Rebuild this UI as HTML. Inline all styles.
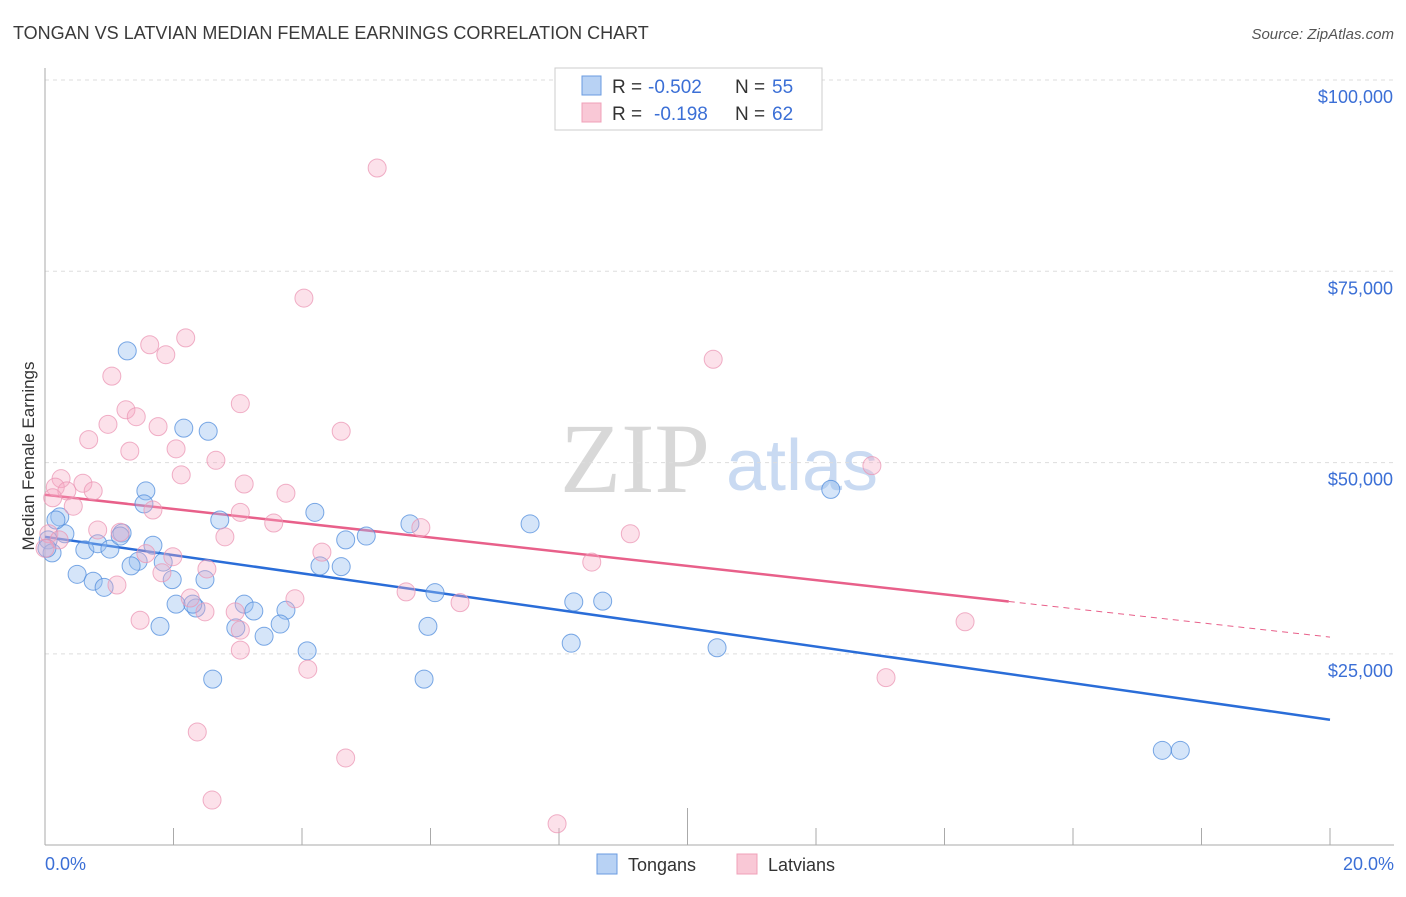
<!DOCTYPE html>
<html><head><meta charset="utf-8">
<style>
body{margin:0;background:#fff;font-family:"Liberation Sans",sans-serif;}
svg text{font-family:"Liberation Sans",sans-serif;}
</style></head>
<body>
<svg id="chart" width="1406" height="892" xmlns="http://www.w3.org/2000/svg">
<text x="13" y="39" font-size="18" fill="#3a3a3a">TONGAN VS LATVIAN MEDIAN FEMALE EARNINGS CORRELATION CHART</text>
<text x="1394" y="39" font-size="15" fill="#555" text-anchor="end" font-style="italic">Source: ZipAtlas.com</text>
<g>
<text x="635" y="492" font-size="100" fill="#d8d8d8" style="font-family:'Liberation Serif',serif" text-anchor="middle">ZIP</text>
<text x="802" y="490" font-size="72" fill="#c9daf2" text-anchor="middle">atlas</text>
</g>
<g id="grid"></g>
<g id="axes"></g>
<g id="trends"></g>
<g id="points"></g>
<text transform="translate(34,456) rotate(-90)" font-size="17" fill="#333" text-anchor="middle">Median Female Earnings</text>
<text x="45" y="870" font-size="18" fill="#3b6fd6">0.0%</text>
<text x="1394" y="870" font-size="18" fill="#3b6fd6" text-anchor="end">20.0%</text>
<g>
<rect x="555" y="68" width="267" height="62" fill="#fff" stroke="#ccc"/>
<rect x="582" y="76" width="19" height="19" fill="#b8d2f4" stroke="#6a9be0"/>
<rect x="582" y="103" width="19" height="19" fill="#f9c8d6" stroke="#f0a0b8"/>
<text x="612" y="93" font-size="19" fill="#333">R =</text>
<text x="648" y="93" font-size="19" fill="#3b6fd6">-0.502</text>
<text x="735" y="93" font-size="19" fill="#333">N =</text>
<text x="772" y="93" font-size="19" fill="#3b6fd6">55</text>
<text x="612" y="120" font-size="19" fill="#333">R =</text>
<text x="654" y="120" font-size="19" fill="#3b6fd6">-0.198</text>
<text x="735" y="120" font-size="19" fill="#333">N =</text>
<text x="772" y="120" font-size="19" fill="#3b6fd6">62</text>
</g>
<g>
<rect x="597" y="854" width="20" height="20" fill="#b8d2f4" stroke="#6a9be0"/>
<text x="628" y="871" font-size="18" fill="#333">Tongans</text>
<rect x="737" y="854" width="20" height="20" fill="#f9c8d6" stroke="#f0a0b8"/>
<text x="768" y="871" font-size="18" fill="#333">Latvians</text>
</g>
</svg>
<script>
const yTicks=[25000,50000,75000,100000];
const yTickLabels=["$25,000","$50,000","$75,000","$100,000"];
const tonganX=[1.28,2.16,2.54,1.57,1.54,0.23,2.72,4.20,0.31,1.20,0.05,0.11,0.62,0.82,1.01,1.68,4.68,5.00,5.68,7.55,1.45,1.34,1.84,4.28,4.61,0.50,0.75,0.92,1.98,2.49,2.04,2.35,3.10,3.25,3.75,2.97,3.41,3.66,1.79,4.08,5.96,6.07,8.23,8.68,8.19,10.46,2.61,5.90,12.23,17.39,17.67,0.03,0.17,1.17,2.30];
const tonganY=[64.6,54.5,54.1,46.3,44.6,42.9,42.5,43.5,40.7,40.8,39.9,38.2,38.6,39.4,38.7,39.2,39.9,40.4,42.0,42.0,37.1,36.5,37.0,36.5,36.4,35.4,34.5,33.7,34.7,34.7,31.5,31.0,31.5,30.6,30.7,28.4,27.3,28.9,28.6,25.4,28.6,33.0,31.8,31.9,26.4,25.8,21.7,21.7,46.5,12.4,12.4,38.8,42.5,40.4,31.5];
const latvianX=[5.17,4.03,2.19,1.63,1.88,10.40,1.04,3.04,1.26,1.42,0.98,1.76,4.61,0.68,2.04,1.32,2.66,12.87,2.12,0.25,0.16,0.59,0.34,0.75,0.12,0.44,3.10,3.75,1.68,3.04,2.80,3.56,5.85,0.82,1.17,9.11,0.06,0.22,0.00,1.57,1.99,4.31,8.51,1.82,2.52,1.12,5.62,2.26,3.89,6.46,1.48,2.96,2.49,14.32,3.04,4.09,13.09,2.37,4.68,2.60,7.97,3.04];
const latvianY=[88.5,71.5,66.3,65.4,64.1,63.5,61.3,57.7,56.9,56.0,55.0,54.7,54.1,53.0,51.8,51.5,50.3,49.6,48.4,47.9,46.8,47.3,46.3,46.3,45.4,44.3,47.2,46.0,43.8,43.5,40.3,42.1,41.5,41.2,40.9,40.7,40.7,39.9,38.8,38.1,37.7,38.3,37.0,35.6,36.1,34.0,33.1,32.3,32.2,31.7,29.4,30.5,30.5,29.2,25.5,23.0,21.9,14.8,11.4,5.9,2.8,28.1];
const tonganTrend=[40.3,16.4];
const latvianTrend=[45.8,27.2];
const latvianSolidEnd=15.0;

const NS="http://www.w3.org/2000/svg";
const X=v=>45+v/20*1285;
const Y=v=>80+(100-v)/25*191.3;
function mk(tag,attrs,parent){const e=document.createElementNS(NS,tag);for(const k in attrs)e.setAttribute(k,attrs[k]);parent.appendChild(e);return e;}
const grid=document.getElementById('grid'),axes=document.getElementById('axes'),trends=document.getElementById('trends'),pts=document.getElementById('points');
yTicks.forEach((t,i)=>{
 const y=Y(t/1000);
 const l=mk('line',{x1:45,x2:1394,y1:y,y2:y,stroke:'#ddd','stroke-dasharray':'4,4'},grid);
 
 
 const tx=mk('text',{x:1393,y:y+23,'font-size':18,fill:'#3b6fd6','text-anchor':'end'},grid);
 tx.textContent=yTickLabels[i];
 
 
});
let a=mk('line',{x1:45,x2:45,y1:68,y2:845,stroke:'#aaa'},axes);


a=mk('line',{x1:45,x2:1394,y1:845,y2:845,stroke:'#aaa'},axes);


for(let i=1;i<=10;i++){
 const x=X(i*2);
 const t=mk('line',{x1:x,x2:x,y1:i==5?808:828,y2:845,stroke:'#aaa'},axes);
 
 
}
let tl=mk('line',{x1:X(0),y1:Y(tonganTrend[0]),x2:X(20),y2:Y(tonganTrend[1]),stroke:'#2a6dd8','stroke-width':2.5},trends);


const lv=x=>latvianTrend[0]+(latvianTrend[1]-latvianTrend[0])*x/20;
tl=mk('line',{x1:X(0),y1:Y(lv(0)),x2:X(latvianSolidEnd),y2:Y(lv(latvianSolidEnd)),stroke:'#e8608a','stroke-width':2.5},trends);


tl=mk('line',{x1:X(latvianSolidEnd),y1:Y(lv(latvianSolidEnd)),x2:X(20),y2:Y(lv(20)),stroke:'#e8608a','stroke-width':1,'stroke-dasharray':'6,5'},trends);


tonganX.forEach((x,i)=>{
 const c=mk('circle',{cx:X(x),cy:Y(tonganY[i]),r:9,fill:'rgba(150,190,240,0.4)',stroke:'rgba(80,140,220,0.75)','stroke-width':1},pts);
 
 
});
latvianX.forEach((x,i)=>{
 const c=mk('circle',{cx:X(x),cy:Y(latvianY[i]),r:9,fill:'rgba(245,170,195,0.35)',stroke:'rgba(235,150,180,0.75)','stroke-width':1},pts);
 
 
});
</script>
</body></html>
